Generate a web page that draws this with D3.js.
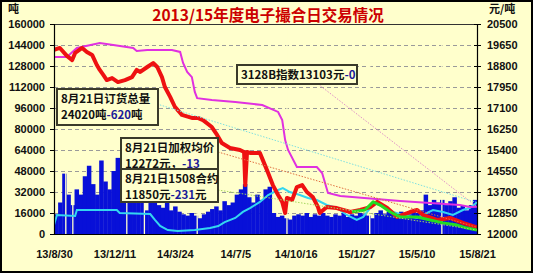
<!DOCTYPE html>
<html><head><meta charset="utf-8">
<script src="https://cdn.jsdelivr.net/npm/d3@7/dist/d3.min.js"></script>
<style>
html,body{margin:0;padding:0;background:#fff;}
svg{display:block;}
</style></head>
<body>
<svg id="c" width="533" height="273"></svg>
<script>
// ---------------- DATA ----------------
const title = "2013/15年度电子撮合日交易情况";
const startDate = "2013-08-30";
const endDate = "2015-08-21";
const xTickLabels = ["13/8/30","13/12/11","14/3/24","14/7/5","14/10/16","15/1/27","15/5/10","15/8/21"];
const leftTicks = [0,16000,32000,48000,64000,80000,96000,112000,128000,144000,160000];
const rightTicks = [12000,12850,13700,14550,15400,16250,17100,17950,18800,19650,20500];

// weekly volume (tons), one value per week starting at startDate
const weeklyVolume = [15000,24000,46000,30000,22000,34000,30000,44000,52000,38000,
 30000,56000,40000,34000,48000,58000,42000,60000,28000,36000,
 46000,52000,18000,26000,24000,22000,20000,24000,18000,21000,
 17000,15000,14000,16000,14000,12000,15000,17000,19000,21000,
 18000,25000,22000,24000,30000,34000,38000,28000,24000,30000,
 26000,34000,36000,16000,13000,14000,12000,11000,14000,15000,
 14000,16000,13000,15000,14000,16000,14000,13000,15000,14000,
 16000,13000,15000,14000,16000,15000,14000,12000,16000,18000,
 15000,17000,16000,15000,17000,16000,15000,17000,16000,18000,
 30000,22000,26000,24000,26000,22000,25000,28000,20000,22000,
 18000,22000,26000];
const closedDays = ["2013-09-19","2013-10-01","2014-01-01","2014-01-31","2014-05-01","2014-10-01","2015-02-19","2015-06-22"];

// order total (left axis) – cyan
const orderDates = ["2013-08-30","2013-09-04","2013-10-05","2013-10-08","2013-12-15","2013-12-20","2014-02-10","2014-02-18","2014-02-27","2014-03-12","2014-03-29","2014-04-27","2014-05-23","2014-06-06","2014-06-17","2014-07-05","2014-07-18","2014-07-30","2014-08-16","2014-08-30","2014-09-16","2014-09-24","2014-10-06","2014-10-23","2014-11-06","2014-11-21","2014-12-08","2014-12-25","2015-01-11","2015-01-28","2015-02-08","2015-02-20","2015-02-28","2015-03-14","2015-03-31","2015-04-17","2015-05-11","2015-05-21","2015-06-07","2015-06-24","2015-07-11","2015-07-28","2015-08-09","2015-08-21"];
const orderTotal = [6900,14500,13700,18300,18300,16000,15200,10700,6100,3000,2300,3000,4600,6100,9100,12200,16800,19800,24400,29700,33500,35000,32000,29700,27400,25900,22100,19800,14500,10700,13000,19800,23600,20600,16800,14500,12200,14500,18300,16800,14500,18300,20000,24020];

// 3128B index (right axis) – magenta
const indexDates = ["2013-08-30","2013-09-21","2013-10-08","2013-11-16","2013-12-09","2014-01-12","2014-01-18","2014-02-05","2014-03-19","2014-04-02","2014-04-07","2014-04-14","2014-04-22","2014-04-27","2014-05-01","2014-05-26","2014-07-05","2014-08-20","2014-09-16","2014-09-23","2014-09-28","2014-10-03","2014-10-18","2014-11-21","2014-11-30","2014-12-10","2014-12-31","2015-04-12","2015-07-23","2015-08-09","2015-08-21"];
const indexPrice = [19160,19160,19530,19730,19650,19530,19410,19450,19450,19370,18920,18560,18350,17750,17500,17420,17340,17220,16940,16610,15800,15400,14710,14710,14470,13660,13540,13340,13170,13090,13103];

// weighted average price (right axis) – red
const avgDates = ["2013-08-30","2013-09-09","2013-09-21","2013-09-30","2013-10-05","2013-10-17","2013-10-25","2013-11-03","2013-11-11","2013-11-16","2013-11-22","2013-11-28","2013-12-07","2013-12-17","2013-12-29","2014-01-10","2014-01-18","2014-01-24","2014-02-05","2014-02-15","2014-02-22","2014-03-02","2014-03-07","2014-03-16","2014-03-24","2014-04-05","2014-04-22","2014-05-02","2014-05-11","2014-05-26","2014-06-04","2014-06-12","2014-06-26","2014-07-13","2014-07-20","2014-07-22","2014-07-25","2014-07-30","2014-08-16","2014-08-21","2014-08-30","2014-09-07","2014-09-16","2014-09-23","2014-09-28","2014-10-01","2014-10-10","2014-10-18","2014-10-27","2014-11-04","2014-11-14","2014-11-23","2014-11-26","2014-12-08","2014-12-25","2015-01-17","2015-02-03","2015-02-20","2015-03-04","2015-03-21","2015-04-07","2015-04-29","2015-05-11","2015-05-21","2015-06-14","2015-07-06","2015-07-28","2015-08-21"];
const avgPrice = [19450,19530,19210,19040,19330,19530,19370,19250,18840,18640,18440,18230,18310,18150,18230,18350,18640,18560,18760,18920,18760,18350,17950,17550,17150,16820,16700,16700,16610,16330,16010,15680,15480,15400,15320,13980,15320,15280,15280,14990,14470,13980,13580,13300,12850,13460,13380,13900,13980,13700,13500,13090,12850,13090,13050,12890,12970,13090,13300,13050,12690,12890,12970,12770,12570,12650,12450,12272];

// 1508 contract (right axis) – green
const c1508Dates = ["2015-01-20","2015-02-11","2015-02-25","2015-03-09","2015-03-26","2015-04-12","2015-05-11","2015-06-02","2015-06-24","2015-07-18","2015-08-04","2015-08-21"];
const c1508Price = [12900,12970,13300,13170,12890,12690,12690,12570,12450,12360,12240,12160];

const boxes = [
  {lines:[["8月21日订货总量"],["24020吨",""],["-620","#1a1a99"],["吨",""]]},
];

// ---------------- CHART ----------------
const W=533,H=273, L=54, R=477, T=24, B=234;
const bg="#FFFFCC";
const svg=d3.select("#c");
const P=d3.timeParse("%Y-%m-%d"), PT=d3.timeParse("%y/%m/%d");
const x=d3.scaleTime().domain([P(startDate),P(endDate)]).range([L,R]);
const yL=d3.scaleLinear().domain([0,160000]).range([B,T]);
const yR=d3.scaleLinear().domain([12000,20500]).range([B,T]);

svg.append("rect").attr("x",1).attr("y",1).attr("width",W-2).attr("height",H-2)
  .attr("fill",bg).attr("stroke","#000").attr("stroke-width",2);

const defs=svg.append("defs");
defs.append("clipPath").attr("id","pc").append("rect").attr("x",L).attr("y",T).attr("width",R-L).attr("height",B-T);

// grid
svg.append("g").selectAll("line").data(leftTicks.filter(v=>v>0&&v<160000)).join("line")
  .attr("x1",L).attr("x2",R).attr("y1",d=>yL(d)+0.5).attr("y2",d=>yL(d)+0.5)
  .attr("stroke","#9a9a9a").attr("stroke-dasharray","4,3").attr("stroke-width",1);

const plot=svg.append("g").attr("clip-path","url(#pc)");

// bars
const s0=P(startDate);
plot.append("g").selectAll("rect").data(weeklyVolume).join("rect")
  .attr("x",(d,i)=>x(d3.timeDay.offset(s0,7*i)))
  .attr("width",(d,i)=>Math.min(R,x(d3.timeDay.offset(s0,7*(i+1))))-x(d3.timeDay.offset(s0,7*i))+0.4)
  .attr("y",d=>yL(d)).attr("height",d=>B-yL(d)).attr("fill","#0810D8");
plot.append("g").selectAll("rect").data(closedDays).join("rect")
  .attr("x",d=>x(P(d))-0.6).attr("width",1.3).attr("y",T).attr("height",B-T).attr("fill",bg);

function line(dates,vals,ys){
  return d3.line().x(d=>x(P(d[0]))).y(d=>ys(d[1]))(dates.map((d,i)=>[d,vals[i]]));
}
plot.append("path").attr("d",line(orderDates,orderTotal,yL)).attr("fill","none").attr("stroke","#33D6F0").attr("stroke-width",2);
plot.append("path").attr("d",line(indexDates,indexPrice,yR)).attr("fill","none").attr("stroke","#E030E0").attr("stroke-width",2);
plot.append("path").attr("d",line(avgDates,avgPrice,yR)).attr("fill","none").attr("stroke","#EE1111").attr("stroke-width",4).attr("stroke-linejoin","round");
plot.append("path").attr("d",line(c1508Dates,c1508Price,yR)).attr("fill","none").attr("stroke","#22DD22").attr("stroke-width",3).attr("stroke-linejoin","round");

// leader lines from label boxes to latest values
const lastX=x(P(endDate));
const leaders=[
  {x1:157,y1:104,y2:yL(orderTotal[orderTotal.length-1]),c:"#7FE0E0"},
  {x1:218,y1:152,y2:yR(avgPrice[avgPrice.length-1]),c:"#E07040"},
  {x1:218,y1:190,y2:yR(c1508Price[c1508Price.length-1]),c:"#A8D860"},
  {x1:318,y1:84,y2:yR(indexPrice[indexPrice.length-1]),c:"#E090C8"}
];
svg.append("g").selectAll("line").data(leaders).join("line")
  .attr("x1",d=>d.x1).attr("y1",d=>d.y1).attr("x2",lastX).attr("y2",d=>d.y2)
  .attr("stroke",d=>d.c).attr("stroke-width",1).attr("stroke-dasharray","1.5,1.5");

// axes
const fNum="'Liberation Sans',Arial,sans-serif";
const fCJK="'Noto Sans CJK SC','Liberation Sans',sans-serif";
const ga=svg.append("g");
ga.append("line").attr("x1",L).attr("x2",R).attr("y1",T+0.5).attr("y2",T+0.5).attr("stroke","#333");
const axL=svg.append("g").attr("transform",`translate(${L},0)`)
  .call(d3.axisLeft(yL).tickValues(leftTicks).tickSize(4).tickFormat(d3.format("d")));
const axR=svg.append("g").attr("transform",`translate(${R},0)`)
  .call(d3.axisRight(yR).tickValues(rightTicks).tickSize(4).tickFormat(d3.format("d")));
const axB=svg.append("g").attr("transform",`translate(0,${B})`)
  .call(d3.axisBottom(x).tickValues(xTickLabels.map(s=>PT(s))).tickSize(0).tickFormat(d3.timeFormat("%y/%-m/%-d")));
axB.selectAll("text").text((d,i)=>xTickLabels[i]);
[axL,axR,axB].forEach(a=>{
  a.selectAll("text").attr("font-family",fNum).attr("font-weight","bold").attr("font-size",11).attr("fill","#111");
  a.select(".domain").attr("stroke","#000").attr("stroke-width",1.2);
  a.selectAll(".tick line").attr("stroke","#000");
});
axL.selectAll("text").attr("x",-9);
axR.selectAll("text").attr("x",10);
axR.selectAll(".tick line").attr("x1",-3);
axB.selectAll("text").attr("y",16);

// title + units
svg.append("text").attr("x",268).attr("y",21).attr("text-anchor","middle")
  .attr("font-family",fCJK).attr("font-weight","bold").attr("font-size",15.5).attr("fill","#CC0000").text(title);
svg.append("text").attr("x",8).attr("y",13).attr("font-family",fCJK).attr("font-weight","bold").attr("font-size",11).attr("fill","#111").text("吨");
svg.append("text").attr("x",489).attr("y",13).attr("font-family",fCJK).attr("font-weight","bold").attr("font-size",11).attr("fill","#111").text("元/吨");

// label boxes
const labelBoxes=[
  {x:57,y:89,w:101,h:36,rows:[[["8月21日订货总量","#111"]],[["24020吨","#111"],["-620","#1a1a99"],["吨","#111"]]]},
  {x:121,y:138,w:97,h:33,rows:[[["8月21日加权均价","#111"]],[["12272元，","#111"],["-13","#1a1a99"]]]},
  {x:121,y:169,w:97,h:33,rows:[[["8月21日1508合约","#111"]],[["11850元","#111"],["-231","#1a1a99"],["元","#111"]]]},
  {x:237,y:65,w:120,h:19,rows:[[["3128B指数13103元","#111"],["-0","#1a1a99"]]]}
];
labelBoxes.forEach(b=>{
  const g=svg.append("g");
  g.append("rect").attr("x",b.x).attr("y",b.y).attr("width",b.w).attr("height",b.h)
    .attr("fill",bg).attr("stroke","#3a3a2a").attr("stroke-width",2);
  b.rows.forEach((r,ri)=>{
    const t=g.append("text").attr("x",b.x+4).attr("y",b.y+14+ri*16)
      .attr("font-family",fCJK).attr("font-weight","bold").attr("font-size",11.5);
    r.forEach(s=>t.append("tspan").attr("fill",s[1]).text(s[0]));
  });
});
</script>
</body></html>
